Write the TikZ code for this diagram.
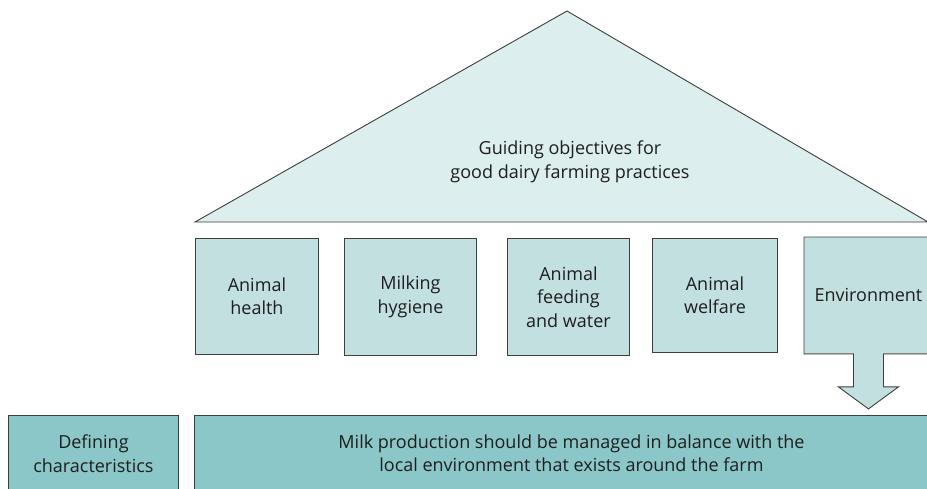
\documentclass[tikz,border=0pt]{standalone}
\usepackage{xcolor}
\usepackage{fontspec}
\setmainfont{Open Sans}
\usepackage{tikz}
\definecolor{roofgreen}{RGB}{221,238,238}
\definecolor{pillargreen}{RGB}{195,224,225}
\definecolor{basegreen}{RGB}{139,199,200}
\definecolor{edgegray}{RGB}{62,62,62}
\definecolor{textgray}{RGB}{30,30,30}

\begin{document}
\begin{tikzpicture}[x=1pt, y=-1pt,
  font=\fontsize{18}{23.5}\selectfont, text=textgray,
  pillar/.style={draw=edgegray, fill=pillargreen, line width=0.9pt, align=center, inner sep=0pt, anchor=north west, minimum height=116pt},
  basebox/.style={draw=edgegray, fill=basegreen, line width=0.9pt, align=center, inner sep=0pt, anchor=north west, minimum height=76pt}]
\useasboundingbox (0,0) rectangle (927,488);

% Roof
\draw[draw=edgegray, fill=roofgreen, line width=0.9pt] (195,222) -- (567,11) -- (928,222) -- cycle;
\node[align=center] (roof) at (570,162) {Guiding objectives for\\good dairy farming practices};

% Pillars
\node[pillar, minimum width=123pt] (health) at (195,238) {Animal\\health};
\node[pillar, minimum width=132pt, minimum height=117pt] (hygiene) at (344,238) {Milking\\hygiene};
\node[pillar, minimum width=122pt, minimum height=117pt] (feeding) at (507,238) {Animal\\feeding\\and water};
\node[pillar, minimum width=125pt, minimum height=114pt] (welfare) at (652,238) {Animal\\welfare};
\node[pillar, draw=none, minimum width=128pt] (env) at (804,237) {Environment};

% Bottom row
\node[basebox, minimum width=170pt] (defining) at (8,415) {Defining\\characteristics};
\node[basebox, minimum width=754pt] (balance) at (194,415) {Milk production should be managed in balance with the\\local environment that exists around the farm};

% Environment box with its arrow down to the bottom row
\fill[pillargreen] ([xshift=15pt, yshift=1pt]env.south) -- ([xshift=15pt, yshift=-33pt]env.south)
  -- ([xshift=30pt, yshift=-33pt]env.south) -- ([yshift=-55pt]env.south)
  -- ([xshift=-30pt, yshift=-33pt]env.south) -- ([xshift=-15pt, yshift=-33pt]env.south)
  -- ([xshift=-15pt, yshift=1pt]env.south) -- cycle;
\draw[edgegray, line width=0.9pt]
  (env.north west) -- (env.north east) -- (env.south east)
  -- ([xshift=15pt]env.south) -- ([xshift=15pt, yshift=-33pt]env.south)
  -- ([xshift=30pt, yshift=-33pt]env.south) -- ([yshift=-55pt]env.south)
  -- ([xshift=-30pt, yshift=-33pt]env.south) -- ([xshift=-15pt, yshift=-33pt]env.south)
  -- ([xshift=-15pt]env.south) -- (env.south west) -- cycle;
\end{tikzpicture}
\end{document}
